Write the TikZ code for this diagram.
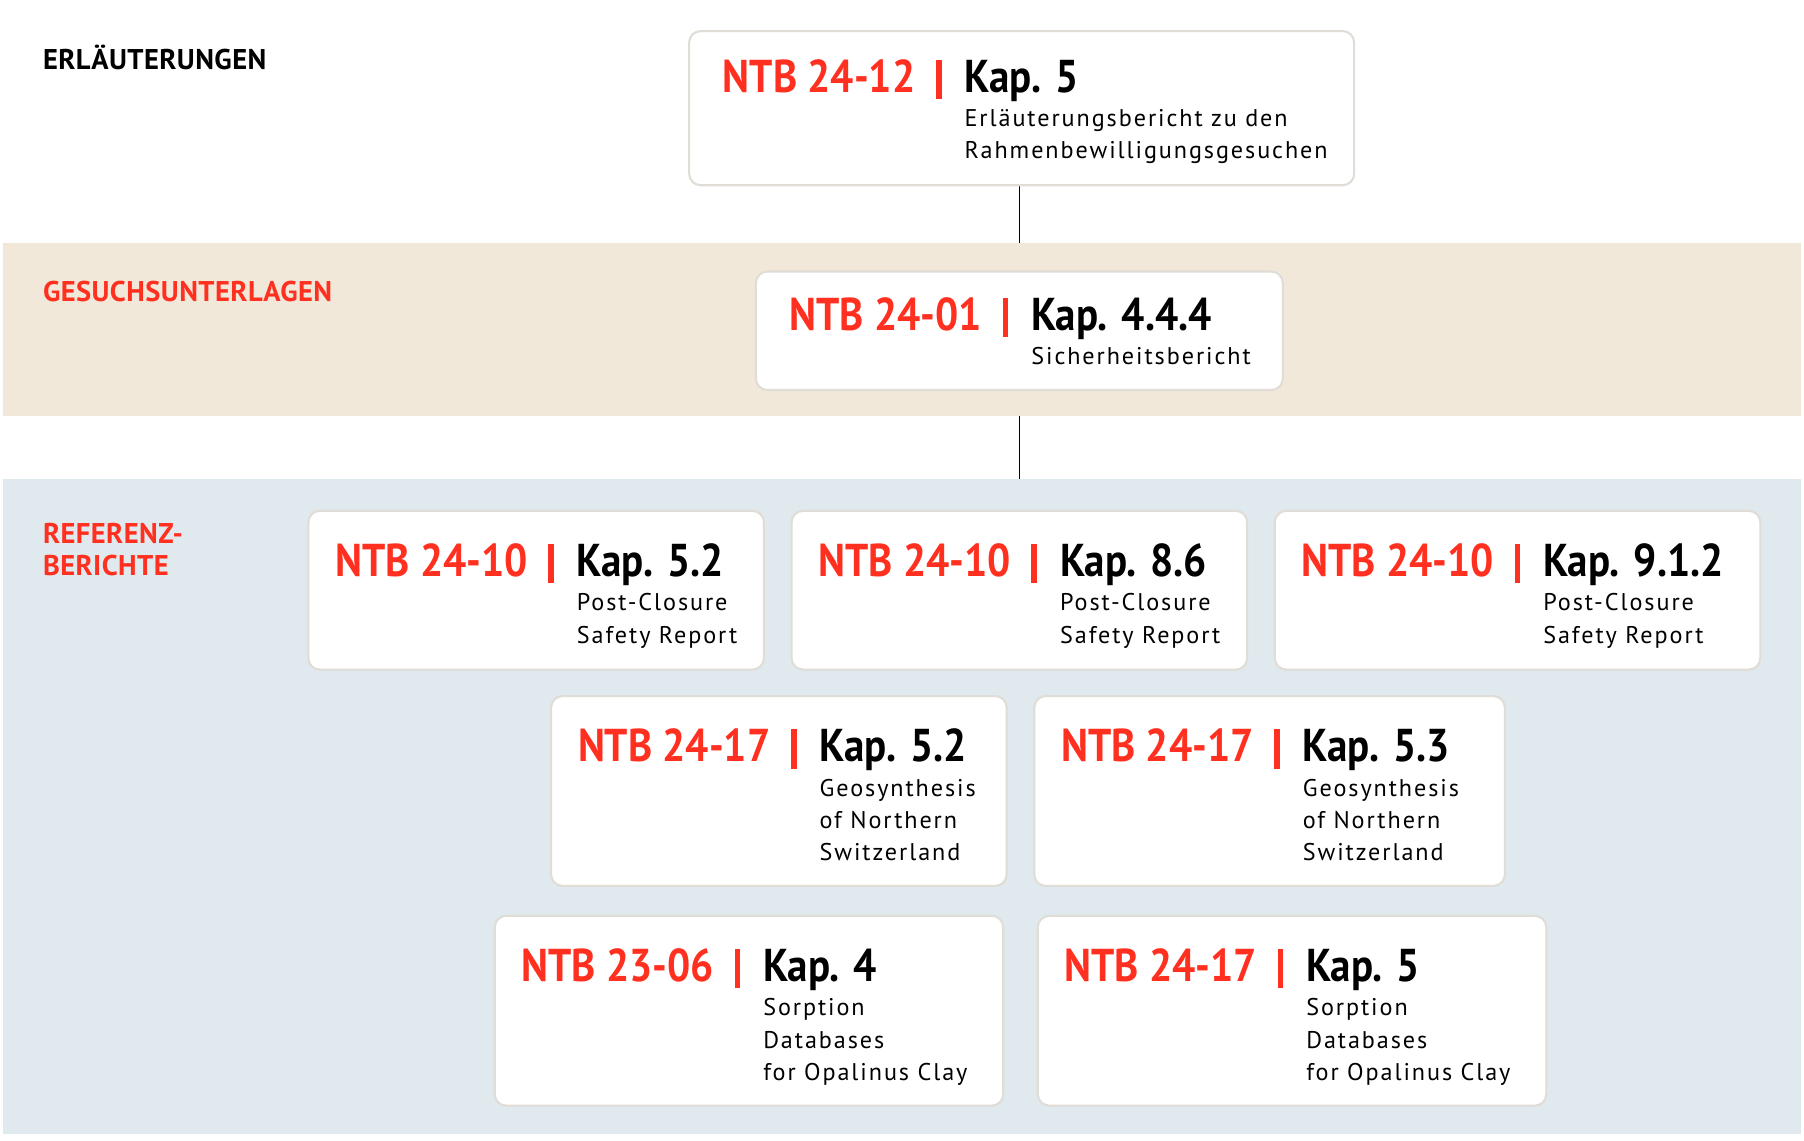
\documentclass[tikz,border=0pt]{standalone}
\usepackage{fontspec}
\setmainfont{PT Sans}
\newfontfamily\titlefont{PT Sans}[FakeStretch=0.89]
\newfontfamily\subfont{PT Sans}[LetterSpace=8]
\newfontfamily\headfont{PT Sans}[LetterSpace=1.5]
\usepackage{xcolor}
\usetikzlibrary{positioning}

\definecolor{nagrared}{RGB}{255,48,32}
\definecolor{beige}{RGB}{241,232,217}
\definecolor{bluegray}{RGB}{223,233,238}
\definecolor{boxline}{RGB}{224,220,214}

\pgfdeclarelayer{lines}
\pgfdeclarelayer{bands}
\pgfsetlayers{lines,bands,main}

\tikzset{
  docbox/.style={draw=boxline, line width=0.9pt, fill=white, rounded corners=5pt,
    anchor=north west, inner sep=0pt, outer sep=0pt},
  ntb/.style={text=nagrared, font=\titlefont\fontsize{20}{20}\selectfont\bfseries, anchor=base west, inner sep=0pt},
  kap/.style={font=\titlefont\fontsize{20}{20}\selectfont\bfseries, anchor=base west, inner sep=0pt},
  bar/.style={text=nagrared, anchor=base, inner sep=0pt},
  sub/.style={font=\subfont\fontsize{10.5}{12}\selectfont, anchor=base west, inner sep=0pt},
  head/.style={font=\headfont\fontsize{12.4}{14}\selectfont\bfseries, anchor=base west, inner sep=0pt},
  link/.style={line width=0.5pt}
}

% text of a report box: box, NTB, chapter, title lines
\newcommand{\docbox}[5][(0,0)]{%
  \node[ntb] at ([shift={(23,57)}, shift={#1}]#2.north west) {#3};
  \node[bar] at ([shift={(211,57)}, shift={#1}]#2.north west) {\rule[-3pt]{2.5pt}{17pt}};
  \node[kap] (#2-kap) at ([shift={(233,57)}, shift={#1}]#2.north west) {#4};
  \foreach \subline [count=\i] in {#5}
    \node[sub] at ([shift={(0,28*\i+2)}]#2-kap.base west) {\subline};
}

\begin{document}
\begin{tikzpicture}[x=0.5pt, y=-0.5pt]
  \useasboundingbox (0,0) rectangle (1568,991);

  % bands
  \begin{pgfonlayer}{bands}
    \fill[beige] (3,211) rectangle (1565,362);
    \fill[bluegray] (3,416) rectangle (1565,986);
  \end{pgfonlayer}

  % headings
  \node[head] (erl) at (37,60) {ERLÄUTERUNGEN};
  \node[head, text=nagrared] (ges) at (37,262) {GESUCHSUNTERLAGEN};
  \node[head, text=nagrared] (ref) at (37,472) {REFERENZ-};
  \node[head, text=nagrared] (ber) at (37,500) {BERICHTE};

  % boxes
  \node[docbox, minimum width=289pt, minimum height=67pt] (P) at (599,27) {};
  \node[docbox, minimum width=229pt, minimum height=51.5pt] (S) at (657,236) {};
  \node[docbox, minimum width=198pt, minimum height=69pt] (A) at (268,444) {};
  \node[docbox, minimum width=198pt, minimum height=69pt] (B) at (688,444) {};
  \node[docbox, minimum width=211pt, minimum height=69pt] (C) at (1108,444) {};
  \node[docbox, minimum width=198pt, minimum height=82.5pt] (D) at (479,605) {};
  \node[docbox, minimum width=204.5pt, minimum height=82.5pt] (E) at (899,605) {};
  \node[docbox, minimum width=221pt, minimum height=82.5pt] (F) at (430,796) {};
  \node[docbox, minimum width=221pt, minimum height=82.5pt] (G) at (902,796) {};

  \docbox[(6,-4)]{P}{NTB 24-12}{Kap. 5}{Erläuterungsbericht zu den, Rahmenbewilligungsgesuchen}
  \docbox[(6,-6)]{S}{NTB 24-01}{Kap. 4.4.4}{Sicherheitsbericht}
  \docbox{A}{NTB 24-10}{Kap. 5.2}{Post-Closure, Safety Report}
  \docbox{B}{NTB 24-10}{Kap. 8.6}{Post-Closure, Safety Report}
  \docbox{C}{NTB 24-10}{Kap. 9.1.2}{Post-Closure, Safety Report}
  \docbox{D}{NTB 24-17}{Kap. 5.2}{Geosynthesis, of Northern, Switzerland}
  \docbox{E}{NTB 24-17}{Kap. 5.3}{Geosynthesis, of Northern, Switzerland}
  \docbox{F}{NTB 23-06}{Kap. 4}{Sorption, Databases, for Opalinus Clay}
  \docbox{G}{NTB 24-17}{Kap. 5}{Sorption, Databases, for Opalinus Clay}

  % connectors, behind the bands
  \begin{pgfonlayer}{lines}
    \draw[link] (P.south -| S.north) -- (S.north);
    \draw[link] (S.south) -- (A.north -| S.south);
  \end{pgfonlayer}
\end{tikzpicture}
\end{document}
